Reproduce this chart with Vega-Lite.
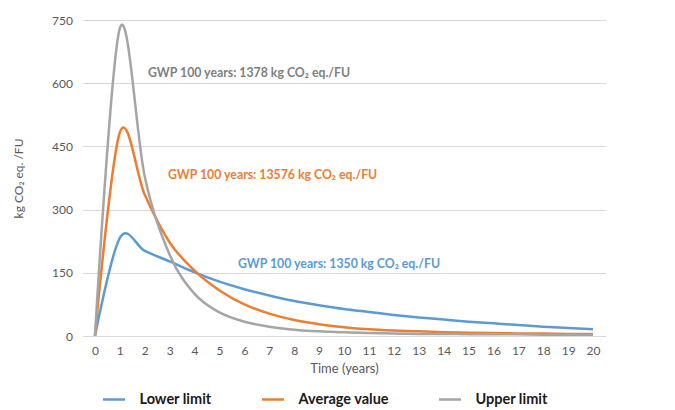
{
  "$schema": "https://vega.github.io/schema/vega-lite/v6.json",
  "width": 523,
  "height": 316,
  "autosize": {"type": "none"},
  "padding": {"left": 82.5, "top": 20, "right": 69.5, "bottom": 74},
  "config": {"font": "Lato", "view": {"stroke": null}, "axisX": {"labelOverlap": false}},
  "layer": [
    {
      "data": {"values": [
        {"year": 0, "series": "Lower limit", "value": 0},
        {"year": 1, "series": "Lower limit", "value": 233},
        {"year": 2, "series": "Lower limit", "value": 202},
        {"year": 3, "series": "Lower limit", "value": 177},
        {"year": 4, "series": "Lower limit", "value": 151},
        {"year": 5, "series": "Lower limit", "value": 129},
        {"year": 6, "series": "Lower limit", "value": 111},
        {"year": 7, "series": "Lower limit", "value": 96},
        {"year": 8, "series": "Lower limit", "value": 83},
        {"year": 9, "series": "Lower limit", "value": 73},
        {"year": 10, "series": "Lower limit", "value": 64},
        {"year": 11, "series": "Lower limit", "value": 57},
        {"year": 12, "series": "Lower limit", "value": 50},
        {"year": 13, "series": "Lower limit", "value": 44},
        {"year": 14, "series": "Lower limit", "value": 39},
        {"year": 15, "series": "Lower limit", "value": 34},
        {"year": 16, "series": "Lower limit", "value": 30},
        {"year": 17, "series": "Lower limit", "value": 26},
        {"year": 18, "series": "Lower limit", "value": 22},
        {"year": 19, "series": "Lower limit", "value": 19},
        {"year": 20, "series": "Lower limit", "value": 16},
        {"year": 0, "series": "Average value", "value": 0},
        {"year": 1, "series": "Average value", "value": 483},
        {"year": 2, "series": "Average value", "value": 335},
        {"year": 3, "series": "Average value", "value": 222},
        {"year": 4, "series": "Average value", "value": 155},
        {"year": 5, "series": "Average value", "value": 108},
        {"year": 6, "series": "Average value", "value": 75},
        {"year": 7, "series": "Average value", "value": 53},
        {"year": 8, "series": "Average value", "value": 38},
        {"year": 9, "series": "Average value", "value": 28},
        {"year": 10, "series": "Average value", "value": 21},
        {"year": 11, "series": "Average value", "value": 16},
        {"year": 12, "series": "Average value", "value": 13},
        {"year": 13, "series": "Average value", "value": 11},
        {"year": 14, "series": "Average value", "value": 9},
        {"year": 15, "series": "Average value", "value": 8},
        {"year": 16, "series": "Average value", "value": 7},
        {"year": 17, "series": "Average value", "value": 6},
        {"year": 18, "series": "Average value", "value": 6},
        {"year": 19, "series": "Average value", "value": 5},
        {"year": 20, "series": "Average value", "value": 5},
        {"year": 0, "series": "Upper limit", "value": 0},
        {"year": 1, "series": "Upper limit", "value": 731},
        {"year": 2, "series": "Upper limit", "value": 378},
        {"year": 3, "series": "Upper limit", "value": 193},
        {"year": 4, "series": "Upper limit", "value": 100},
        {"year": 5, "series": "Upper limit", "value": 56},
        {"year": 6, "series": "Upper limit", "value": 34},
        {"year": 7, "series": "Upper limit", "value": 22},
        {"year": 8, "series": "Upper limit", "value": 15},
        {"year": 9, "series": "Upper limit", "value": 11},
        {"year": 10, "series": "Upper limit", "value": 9},
        {"year": 11, "series": "Upper limit", "value": 7},
        {"year": 12, "series": "Upper limit", "value": 6},
        {"year": 13, "series": "Upper limit", "value": 5},
        {"year": 14, "series": "Upper limit", "value": 5},
        {"year": 15, "series": "Upper limit", "value": 4},
        {"year": 16, "series": "Upper limit", "value": 4},
        {"year": 17, "series": "Upper limit", "value": 4},
        {"year": 18, "series": "Upper limit", "value": 3},
        {"year": 19, "series": "Upper limit", "value": 3},
        {"year": 20, "series": "Upper limit", "value": 3}
      ]},
      "mark": {"type": "line", "interpolate": "cardinal", "strokeWidth": 2.5},
      "encoding": {
        "x": {
          "field": "year", "type": "quantitative",
          "scale": {"domain": [-0.5, 20.5], "nice": false, "zero": false},
          "axis": {
            "values": [0,1,2,3,4,5,6,7,8,9,10,11,12,13,14,15,16,17,18,19,20],
            "tickCount": 21,
            "labelOverlap": false,
            "title": "Time (years)", "grid": false, "ticks": false,
            "domainColor": "#D9D9D9", "domainWidth": 1,
            "labelColor": "#595959", "labelFontSize": 12, "labelPadding": 9,
            "titleColor": "#595959", "titleFontSize": 13, "titleFontWeight": "normal", "titlePadding": 6
          }
        },
        "y": {
          "field": "value", "type": "quantitative",
          "scale": {"domain": [0, 750], "nice": false},
          "axis": {
            "values": [0, 150, 300, 450, 600, 750],
            "title": "kg CO₂ eq. /FU", "domain": false, "ticks": false,
            "gridColor": "#D9D9D9", "gridWidth": 1,
            "labelColor": "#595959", "labelFontSize": 12, "labelPadding": 10,
            "titleColor": "#595959", "titleFontSize": 12, "titleFontWeight": "normal", "titlePadding": 26
          }
        },
        "color": {
          "field": "series", "type": "nominal",
          "scale": {"domain": ["Lower limit", "Average value", "Upper limit"], "range": ["#5B9BD5", "#ED7D31", "#A5A5A5"]},
          "sort": ["Lower limit", "Average value", "Upper limit"],
          "legend": {
            "title": null, "orient": "none", "direction": "horizontal",
            "legendX": 19, "legendY": 367,
            "symbolType": "stroke", "symbolSize": 484, "symbolStrokeWidth": 2.5,
            "labelFontSize": 14.5, "labelFontWeight": "bold", "labelColor": "#1a1a1a",
            "labelOffset": 13, "columnPadding": 44
          }
        }
      }
    },
    {
      "data": {"values": [{}]},
      "mark": {"type": "text", "align": "left", "baseline": "middle", "fontSize": 12.3, "fontWeight": "bold", "color": "#7F7F7F", "text": "GWP 100 years: 1378  kg CO₂ eq./FU"},
      "encoding": {"x": {"datum": 2.13, "type": "quantitative"}, "y": {"datum": 624, "type": "quantitative"}}
    },
    {
      "data": {"values": [{}]},
      "mark": {"type": "text", "align": "left", "baseline": "middle", "fontSize": 12.3, "fontWeight": "bold", "color": "#ED7D31", "text": "GWP 100 years: 13576  kg CO₂ eq./FU"},
      "encoding": {"x": {"datum": 2.93, "type": "quantitative"}, "y": {"datum": 382, "type": "quantitative"}}
    },
    {
      "data": {"values": [{}]},
      "mark": {"type": "text", "align": "left", "baseline": "middle", "fontSize": 12.3, "fontWeight": "bold", "color": "#5B9BD5", "text": "GWP 100 years: 1350  kg CO₂ eq./FU"},
      "encoding": {"x": {"datum": 5.74, "type": "quantitative"}, "y": {"datum": 171, "type": "quantitative"}}
    }
  ]
}
